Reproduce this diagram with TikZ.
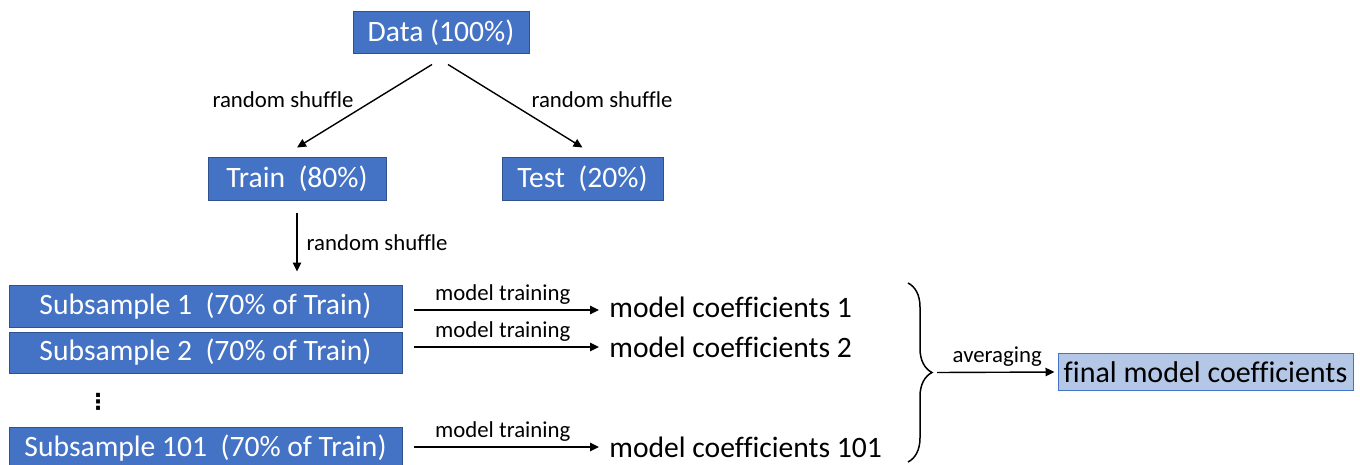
\documentclass[tikz,border=0pt]{standalone}
\usepackage{fontspec}
\setmainfont{Carlito}[Ligatures=NoCommon]
\newfontfamily\symfont{DejaVu Sans}
\usepackage{tikz}
\usetikzlibrary{arrows.meta,positioning,calc,decorations.pathreplacing}
\usepackage{xcolor}
\definecolor{pptblue}{RGB}{68,114,196}
\definecolor{pptedge}{RGB}{47,82,143}
\definecolor{paleblue}{RGB}{180,199,231}
\tikzset{
  bbox/.style={draw=pptedge,line width=0.5pt,fill=pptblue,text=white,inner sep=0pt,minimum height=21pt,font=\fontsize{14.8pt}{17pt}\selectfont},
  coef/.style={anchor=west,inner sep=3pt,font=\fontsize{14.8pt}{17pt}\selectfont},
  labl/.style={font=\fontsize{11.4pt}{13pt}\selectfont,inner sep=1.5pt},
  arr/.style={-{Triangle[length=4.5pt,width=4.2pt]},line width=0.7pt},
}

\begin{document}
\begin{tikzpicture}[x=0.5pt,y=-0.5pt]
  \useasboundingbox (0,0) rectangle (1360,465);
  % Top split
  \node[bbox,minimum width=88pt] (data) at (441,33){Data (100\%)};
  \node[bbox,minimum width=89pt] (train) at (297,179){Train~ (80\%)};
  \node[bbox,minimum width=80.5pt] (test) at (582.5,179){Test~ (20\%)};
  \draw[arr] ([xshift=-4.5pt,yshift=-5pt]data.south) -- ([yshift=5pt]train.north);
  \draw[arr] ([xshift=3.5pt,yshift=-5pt]data.south) -- ([yshift=5pt]test.north);
  \node[labl] (shufL) at (283,100){random shuffle};
  \node[labl] (shufR) at (602,100){random shuffle};

  % Subsamples
  \node[bbox,minimum width=196.5pt] (sub1) at (205.5,306){Subsample 1~ (70\% of Train)};
  \node[bbox,minimum width=196.5pt,minimum height=20.5pt] (sub2) at (205.5,352.5){Subsample 2~ (70\% of Train)};
  \node[font=\symfont\fontsize{11pt}{13pt}\selectfont\bfseries] (dots) at (98,402){⋮};
  \node[bbox,minimum width=196.5pt] (sub101) at (205.5,448){Subsample 101~ (70\% of Train)};
  \draw[arr,shorten <=6pt,shorten >=6.5pt] (train.south) -- (train.south |- sub1.north)
    node[labl,midway,right=3pt]{random shuffle};

  % Coefficients
  \node[coef] (c1) at (603,307){model coefficients 1};
  \node[coef] (c2) at (603,347){model coefficients 2};
  \node[coef] (c101) at (603,447){model coefficients 101};
  \foreach \s/\c/\dy in {sub1/c1/1.5,sub2/c2/0,sub101/c101/0}{
    \draw[arr,shorten <=5.5pt,shorten >=2pt] ([yshift=-\dy pt]\c.west -| \s.east) -- ([yshift=-\dy pt]\c.west)
      node[labl,midway,above=1pt]{model training};
  }

  % Averaging
  \draw[line width=0.75pt,decorate,decoration={brace,amplitude=12pt}] (908,283) -- (908,462);
  \coordinate (tip) at (937,372.5);
  \node[draw=pptblue,line width=0.5pt,fill=paleblue,inner sep=0pt,minimum width=147.5pt,minimum height=18.5pt,
    font=\fontsize{15pt}{17pt}\selectfont] (final) at (1205.5,372){final model coefficients};
  \draw[arr,shorten >=1.5pt] (tip) -- (final.west) node[labl,midway,above=1pt]{averaging};
\end{tikzpicture}
\end{document}
